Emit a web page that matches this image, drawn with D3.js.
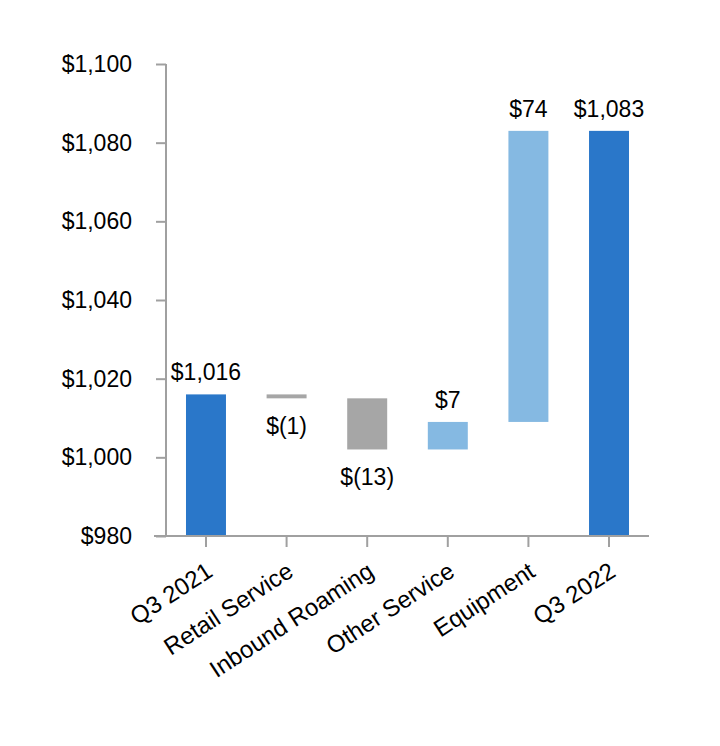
<!DOCTYPE html>
<html lang="en">
<head>
    <title>Waterfall</title>
    <script src="https://d3js.org/d3.v7.min.js"></script>
    <style>
        body { margin: 0; background: #fff; }
        text { font-family: "Liberation Sans", Arial, sans-serif; }
    </style>
</head>
<body>
    <div id="chart"></div>
    <script>

        // categories and the change of each step (first and last are totals)
        const categories = ["Q3 2021", "Retail Service", "Inbound Roaming", "Other Service", "Equipment", "Q3 2022"];
        const values = [1016, -1, -13, 7, 74, 1083];
        const isTotal = [true, false, false, false, false, true];
        const valueLabels = ["$1,016", "$(1)", "$(13)", "$7", "$74", "$1,083"];
        const yTicks = [980, 1000, 1020, 1040, 1060, 1080, 1100];

        const width = 720, height = 746;
        const margin = { top: 64, left: 166, right: 71, bottom: 210 };
        const fontSize = 23;

        const svg = d3.select("#chart")
            .append("svg")
            .attr("width", width)
            .attr("height", height);

        // build start/end for every bar
        let running = 0;
        const bars = categories.map((c, i) => {
            let start, end;
            if (isTotal[i]) {
                start = 980; end = values[i]; running = values[i];
            } else {
                start = running; end = running + values[i]; running = end;
            }
            return { cat: c, start, end, value: values[i], total: isTotal[i], label: valueLabels[i] };
        });

        const x = d3.scaleBand()
            .domain(categories)
            .range([margin.left, width - margin.right])
            .paddingInner(0.504)
            .paddingOuter(0.248);

        const y = d3.scaleLinear()
            .domain([980, 1100])
            .range([height - margin.bottom, margin.top]);

        const color = d => d.total ? "#2A77C9" : (d.value < 0 ? "#A6A6A6" : "#85B9E2");

        // y axis
        const yAxis = svg.append("g")
            .attr("transform", `translate(${margin.left},0)`)
            .call(d3.axisLeft(y).tickValues(yTicks).tickSize(10).tickPadding(24)
                .tickFormat(d => "$" + d3.format(",")(d)));
        yAxis.select(".domain").attr("stroke", "#A0A0A0").attr("stroke-width", 2).attr("d", `M0,${y(1100)}V${y(980)}`);
        yAxis.selectAll(".tick line").attr("stroke", "#A0A0A0").attr("stroke-width", 2);
        yAxis.selectAll("text").attr("font-size", fontSize).attr("fill", "#000")
            .attr("font-family", "Liberation Sans, Arial, sans-serif");

        // bars
        svg.selectAll("rect.bar")
            .data(bars)
            .enter()
            .append("rect")
            .attr("class", "bar")
            .attr("x", d => x(d.cat))
            .attr("width", x.bandwidth())
            .attr("y", d => y(Math.max(d.start, d.end)))
            .attr("height", d => Math.max(3, Math.abs(y(d.start) - y(d.end))))
            .attr("fill", color);

        // value labels
        svg.selectAll("text.val")
            .data(bars)
            .enter()
            .append("text")
            .attr("class", "val")
            .attr("x", d => x(d.cat) + x.bandwidth() / 2)
            .attr("y", d => d.value < 0 ? y(Math.min(d.start, d.end)) + 36 : y(Math.max(d.start, d.end)) - 14)
            .attr("text-anchor", "middle")
            .attr("font-size", fontSize)
            .text(d => d.label);

        // x axis
        const xAxis = svg.append("g")
            .attr("transform", `translate(0,${y(980)})`)
            .call(d3.axisBottom(x).tickSize(11).tickPadding(0));
        xAxis.select(".domain").attr("stroke", "#A0A0A0").attr("stroke-width", 2)
            .attr("d", `M${margin.left - 12},0H${width - margin.right}`);
        xAxis.selectAll(".tick line").attr("stroke", "#A0A0A0").attr("stroke-width", 2);
        xAxis.selectAll(".tick text")
            .attr("font-size", 24)
            .attr("fill", "#000")
            .attr("font-family", "Liberation Sans, Arial, sans-serif")
            .attr("text-anchor", "end")
            .attr("x", 0)
            .attr("y", 0)
            .attr("dy", "0.71em")
            .attr("transform", "translate(-1,25) rotate(-33)");

    </script>
</body>
</html>
